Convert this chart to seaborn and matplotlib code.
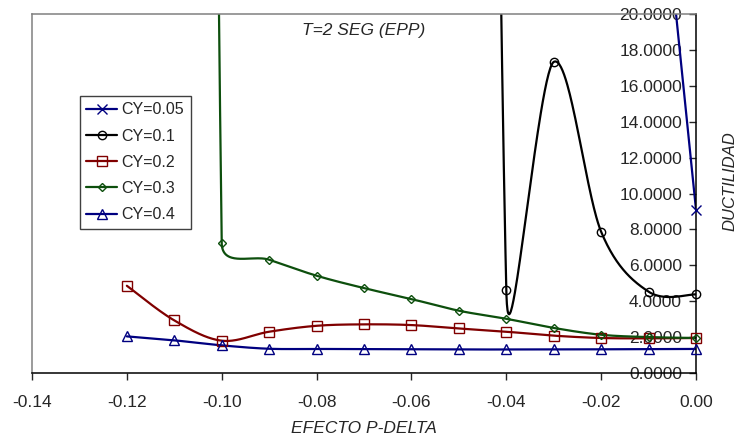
import numpy as np
import matplotlib
matplotlib.use("Agg")
import matplotlib.pyplot as plt
from matplotlib.lines import Line2D
import seaborn as sns

# P-delta effect (x) and ductility (y)
x_cy005 = [-0.01, 0.00]
y_cy005 = [35.0, 9.10]

x_cy01 = [-0.05, -0.04, -0.03, -0.02, -0.01, 0.00]
y_cy01 = [250.0, 4.64, 17.33, 7.87, 4.53, 4.38]

x_cy02 = [-0.12, -0.11, -0.10, -0.09, -0.08, -0.07, -0.06, -0.05, -0.04, -0.03, -0.02, -0.01, 0.00]
y_cy02 = [4.86, 2.93, 1.80, 2.30, 2.63, 2.71, 2.67, 2.48, 2.30, 2.08, 1.95, 1.93, 1.95]

x_cy03 = [-0.11, -0.10, -0.09, -0.08, -0.07, -0.06, -0.05, -0.04, -0.03, -0.02, -0.01, 0.00]
y_cy03 = [400.0, 7.24, 6.31, 5.42, 4.73, 4.12, 3.47, 3.02, 2.51, 2.13, 2.00, 1.95]

x_cy04 = [-0.12, -0.11, -0.10, -0.09, -0.08, -0.07, -0.06, -0.05, -0.04, -0.03, -0.02, -0.01, 0.00]
y_cy04 = [2.04, 1.82, 1.54, 1.35, 1.34, 1.33, 1.32, 1.31, 1.31, 1.31, 1.32, 1.33, 1.34]

xticks = [-0.14, -0.12, -0.10, -0.08, -0.06, -0.04, -0.02, 0.00]
xtick_labels = ["-0.14", "-0.12", "-0.10", "-0.08", "-0.06", "-0.04", "-0.02", "0.00"]
yticks = [0, 2, 4, 6, 8, 10, 12, 14, 16, 18, 20]

series = [
    ("CY=0.05", x_cy005, y_cy005, "#000080", "x", 7),
    ("CY=0.1", x_cy01, y_cy01, "#000000", "o", 6),
    ("CY=0.2", x_cy02, y_cy02, "#800000", "s", 6.5),
    ("CY=0.3", x_cy03, y_cy03, "#0d4f0d", "D", 4.5),
    ("CY=0.4", x_cy04, y_cy04, "#000080", "^", 6.5),
]

sns.set_style("white")
plt.rcParams['font.family'] = ['Liberation Sans', 'DejaVu Sans']

fig = plt.figure(figsize=(7.4, 4.43), dpi=100)
ax = fig.add_axes([32 / 740, 70 / 443, 664 / 740, 359 / 443])
ax.set_xlim(-0.14, 0.0)
ax.set_ylim(0, 20)


def smooth_curve(x, y):
    # Excel-like bezier smoothing, done in pixel space
    pts = ax.transData.transform(np.column_stack([x, y]))
    out = [pts[0]]
    m = len(pts)
    t = np.linspace(0, 1, 60)[1:][:, None]
    for i in range(m - 1):
        p0 = pts[i - 1] if i > 0 else pts[i]
        p1, p2 = pts[i], pts[i + 1]
        p3 = pts[i + 2] if i + 2 < m else pts[i + 1]
        d = np.linalg.norm(p2 - p1)
        t1 = (p2 - p0) / 6
        t2 = (p3 - p1) / 6
        if np.linalg.norm(t1) > d / 2:
            t1 = t1 * (d / 2) / np.linalg.norm(t1)
        if np.linalg.norm(t2) > d / 2:
            t2 = t2 * (d / 2) / np.linalg.norm(t2)
        c1, c2 = p1 + t1, p2 - t2
        seg = ((1 - t) ** 3) * p1 + 3 * ((1 - t) ** 2) * t * c1 + 3 * (1 - t) * t ** 2 * c2 + t ** 3 * p2
        out.extend(seg)
    data = ax.transData.inverted().transform(np.array(out))
    return data[:, 0], data[:, 1]


handles = []
for name, xs, ys, col, mk, ms in series:
    sx, sy = smooth_curve(xs, ys)
    sns.lineplot(x=sx, y=sy, sort=False, estimator=None, color=col, lw=1.6, ax=ax, legend=False)
    ax.plot(xs, ys, linestyle="none", marker=mk, markersize=ms, markerfacecolor="none",
            markeredgecolor=col, markeredgewidth=1.0, clip_on=False, zorder=3)
    handles.append(Line2D([], [], color=col, lw=1.6, marker=mk, markersize=ms,
                          markerfacecolor="none", markeredgecolor=col, markeredgewidth=1.0))

# axes: y axis sits at x = 0, gray frame on left/top
ax.spines['left'].set_position(('data', 0))
ax.spines['left'].set_color('black')
ax.spines['left'].set_linewidth(1.1)
ax.spines['bottom'].set_color('black')
ax.spines['bottom'].set_linewidth(1.1)
ax.spines['right'].set_position(('data', -0.14))
ax.spines['right'].set_color('#808080')
ax.spines['right'].set_linewidth(1.1)
ax.spines['top'].set_color('#808080')
ax.spines['top'].set_linewidth(1.1)

ax.set_xticks(xticks)
ax.set_xticklabels(xtick_labels)
ax.set_yticks(yticks)
ax.set_yticklabels(["%.4f" % v for v in yticks])
ax.tick_params(axis='x', direction='out', length=5, width=1, pad=10.5, labelsize=12.5, bottom=True)
ax.tick_params(axis='y', direction='out', length=5, width=1, pad=5, labelsize=12.5, left=True)

ax.text(0.5, 1 - 16 / 359, "T=2 SEG (EPP)", transform=ax.transAxes, ha='center', va='center',
        fontsize=12.5, style='italic')
ax.set_xlabel("EFECTO P-DELTA", fontsize=12.5, style='italic', labelpad=8)
fig.text(730 / 740, 1 - 181 / 443, "DUCTILIDAD", rotation=90, ha='center', va='center',
         fontsize=12, style='italic')

leg = ax.legend(handles=handles, labels=[s[0] for s in series], loc='upper left',
                bbox_to_anchor=(80 / 740, 1 - 96 / 443), bbox_transform=fig.transFigure,
                fontsize=11.5, frameon=True, fancybox=False, framealpha=1, edgecolor='#404040',
                borderpad=0.4, labelspacing=0.7, handlelength=1.9, handletextpad=0.3,
                borderaxespad=0)
leg.get_frame().set_linewidth(1.0)

fig.savefig("out.png", dpi=100)
